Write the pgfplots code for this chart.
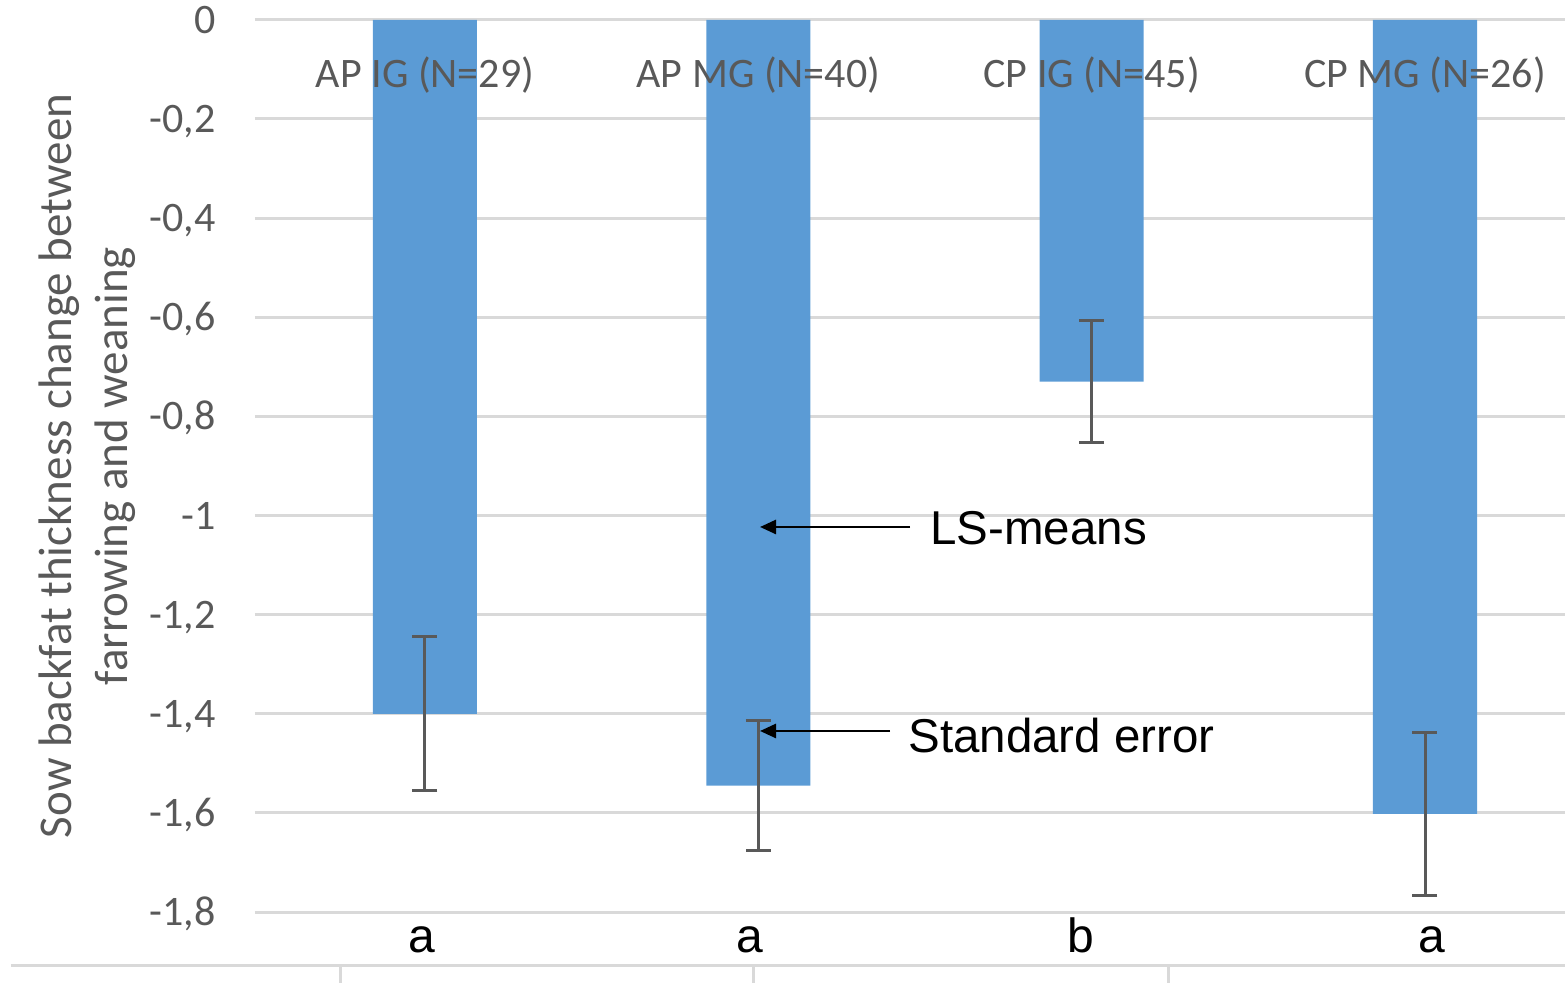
\documentclass[border=0pt]{standalone}
\usepackage{pgfplots}
\pgfplotsset{compat=1.18}
\usepackage{fontspec}
\setmainfont{Carlito}
\newfontfamily\arial{Liberation Sans}
\usetikzlibrary{arrows.meta}
\definecolor{barblue}{HTML}{5B9BD5}
\definecolor{gridgray}{HTML}{D9D9D9}
\definecolor{txtgray}{HTML}{595959}
\definecolor{errgray}{HTML}{595959}
\tikzset{catlab/.style={anchor=base, inner sep=0pt, yshift=-34pt, font=\fontsize{21}{25}\selectfont, text=txtgray}}
\begin{document}
\begin{tikzpicture}
\begin{axis}[
  at={(0pt,0pt)}, anchor=south west,
  scale only axis, width=655pt, height=491.5pt,
  xmin=-0.51, xmax=3.42, ymin=-1.943, ymax=0.04,
  axis line style={draw=none},
  clip=false,
  ytick={-1.8,-1.6,-1.4,-1.2,-1,-0.8,-0.6,-0.4,-0.2,0},
  ymajorgrids, grid style={draw=gridgray, line width=1.5pt},
  major tick length=0pt,
  tick style={draw=none},
  xtick=\empty,
  yticklabel style={anchor=base east, inner sep=0pt, xshift=-19.5pt, yshift=-6.75pt, font=\fontsize{21}{25}\selectfont, text=txtgray},
  /pgf/number format/use comma,
  /pgf/number format/fixed,
  /pgf/number format/precision=1,
  /pgf/number format/assume math mode=true,
]
\addplot[ybar, bar width=52pt, fill=barblue, draw=none,
  error bars/.cd, y dir=both, y explicit,
  error bar style={draw=errgray, line width=1.5pt},
  error mark options={rotate=90, mark size=6.25pt, draw=errgray, line width=1.5pt}]
  coordinates {(0,-1.400) +- (0,0.155) (1,-1.545) +- (0,0.131) (2,-0.730) +- (0,0.123) (3,-1.602) +- (0,0.164)};
% category labels (drawn over the bars)
\node[catlab] at (axis cs:0,0) {AP IG (N=29)};
\node[catlab] at (axis cs:1,0) {AP MG (N=40)};
\node[catlab] at (axis cs:2,0) {CP IG (N=45)};
\node[catlab] at (axis cs:3,0) {CP MG (N=26)};
\end{axis}
% bottom axis line with category ticks
\draw[gridgray, line width=1.5pt] (-122pt,8.5pt) -- (655pt,8.5pt);
\foreach \xx in {42.5,249,456.5} \draw[gridgray, line width=1.5pt] (\xx pt,8.5pt) -- (\xx pt,0pt);
% y label
\node[rotate=90, align=center, font=\fontsize{23.5}{28}\selectfont, text=txtgray, inner sep=0pt] at (-84pt,258.5pt) {Sow backfat thickness change between\\farrowing and weaning};
% annotations
\node[anchor=base west, inner sep=0pt, font=\arial\fontsize{23.75}{28}\selectfont] at (337.5pt,219pt) {LS-means};
\node[anchor=base west, inner sep=0pt, font=\arial\fontsize{23.75}{28}\selectfont] at (326.5pt,115pt) {Standard error};
\draw[line width=1.3pt, -{Triangle[length=8pt,width=7pt]}] (327.5pt,228pt) -- (252.5pt,228pt);
\draw[line width=1.3pt, -{Triangle[length=8pt,width=7pt]}] (317.5pt,126pt) -- (252.5pt,126pt);
% significance letters
\foreach \xx/\ll in {83.5/a,247.5/a,413/b,588.5/a}
  \node[anchor=base, inner sep=0pt, font=\arial\fontsize{24}{28}\selectfont] at (\xx pt,15pt) {\ll};
\pgfresetboundingbox
\useasboundingbox (-127.5pt,0pt) rectangle (655pt,491.5pt);
\end{tikzpicture}
\end{document}
